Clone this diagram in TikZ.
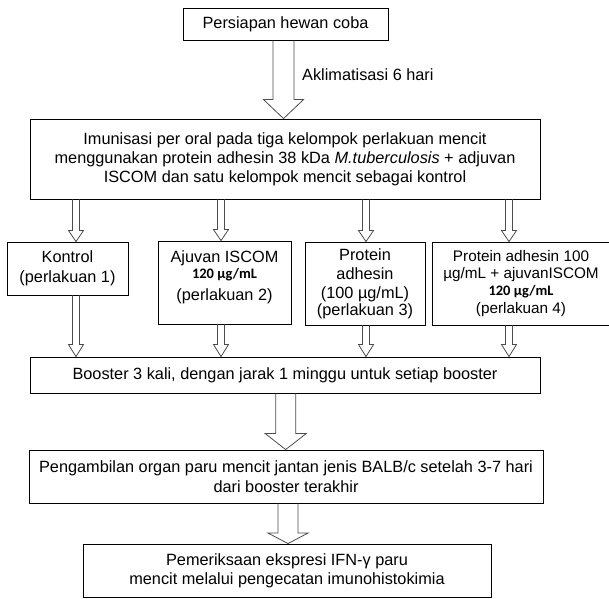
\documentclass[tikz,border=0pt]{standalone}
\usepackage{fontspec}
\setmainfont{Liberation Sans}
\newfontfamily\calfont{Carlito}
\usetikzlibrary{calc}

\newcommand{\mainsize}{\fontsize{16.3}{19}\selectfont}
\newcommand{\dose}{{\calfont\bfseries\fontsize{14.5}{17}\selectfont 120 µg/mL}}
% hollow block arrow: start, tip, shaft half width, head half width, head length
\newcommand{\hollowarrow}[5]{%
  \draw[arrowline] let \p1 = #1, \p2 = #2 in
    (\x1-#3,\y1) -- (\x1-#3,\y2+#5) -- (\x1-#4,\y2+#5) -- (\x1,\y2)
    -- (\x1+#4,\y2+#5) -- (\x1+#3,\y2+#5) -- (\x1+#3,\y1);
}

\begin{document}
\begin{tikzpicture}[
	x = 1pt, y = -1pt,
	box/.style = {
	  draw, black, line width = 0.9pt,
	  align = center,
	  inner sep = 0pt,
	  font = \mainsize,
	},
	arrowline/.style = {
	  draw = black!70, line width = 0.8pt,
	},
	note/.style = {
	  anchor = west, inner sep = 0pt, font = \mainsize,
	},
  ]
  \useasboundingbox (0,0) rectangle (609,598);

  \node[box, minimum width = 205pt, minimum height = 32pt] (prep) at (285.5,24)
	{Persiapan hewan coba};
  \node[box, minimum width = 510pt, minimum height = 80pt] (imun) at (285,159)
	{Imunisasi per oral pada tiga kelompok perlakuan mencit\\
	 menggunakan protein adhesin 38 kDa \textit{M.tuberculosis} + adjuvan\\
	 ISCOM dan satu kelompok mencit sebagai kontrol};

  \node[box, minimum width = 121pt, minimum height = 53pt] (k1) at (67.5,268.5)
	{Kontrol\\[1pt] (perlakuan 1)};
  \node[box, minimum width = 133pt, minimum height = 83pt] (k2) at (224.5,282.5)
	{Ajuvan ISCOM\\[-3pt] \dose\\[3pt] (perlakuan 2)\\[-6pt] \mbox{}};
  \node[box, minimum width = 120pt, minimum height = 83pt] (k3) at (365,283.5)
	{Protein\\ adhesin\\ (100 µg/mL)\\[-2pt] (perlakuan 3)};
  \node[box, minimum width = 178pt, minimum height = 83pt,
	font = \fontsize{15.3}{16.5}\selectfont] (k4) at (521,283.5)
	{Protein adhesin 100\\ µg/mL + ajuvanISCOM\\[1pt] \dose\\[1pt] (perlakuan 4)};

  \node[box, minimum width = 510pt, minimum height = 36pt] (boost) at (285,375)
	{Booster 3 kali, dengan jarak 1 minggu untuk setiap booster};
  \node[box, minimum width = 514pt, minimum height = 53pt] (organ) at (286,476.5)
	{Pengambilan organ paru mencit jantan jenis BALB/c setelah 3-7 hari\\[1pt]
	 dari booster terakhir};
  \node[box, minimum width = 408pt, minimum height = 53pt] (ihk) at (287,570.5)
	{Pemeriksaan ekspresi IFN-γ paru\\
	 mencit melalui pengecatan imunohistokimia};

  \coordinate (a0) at (283.5,0);
  \hollowarrow{(prep.south -| a0)}{(imun.north -| a0)}{10.5pt}{20pt}{19pt}
  \node[note] (aklim) at (302,75) {Aklimatisasi 6 hari};

  \foreach \k/\xx in {1/76, 2/221, 3/366, 4/509} {
	\coordinate (c\k) at (\xx,0);
	\hollowarrow{(imun.south -| c\k)}{(k\k.north -| c\k)}{3.5pt}{7.5pt}{11pt}
	\hollowarrow{(k\k.south -| c\k)}{(boost.north -| c\k)}{3.5pt}{7.5pt}{12pt}
  }

  \coordinate (a1) at (285.7,0);
  \coordinate (a2) at (288,0);
  \hollowarrow{(boost.south -| a1)}{(organ.north -| a1)}{10pt}{20.5pt}{16pt}
  \hollowarrow{(organ.south -| a2)}{(ihk.north -| a2)}{10pt}{20pt}{10.5pt}
\end{tikzpicture}
\end{document}
